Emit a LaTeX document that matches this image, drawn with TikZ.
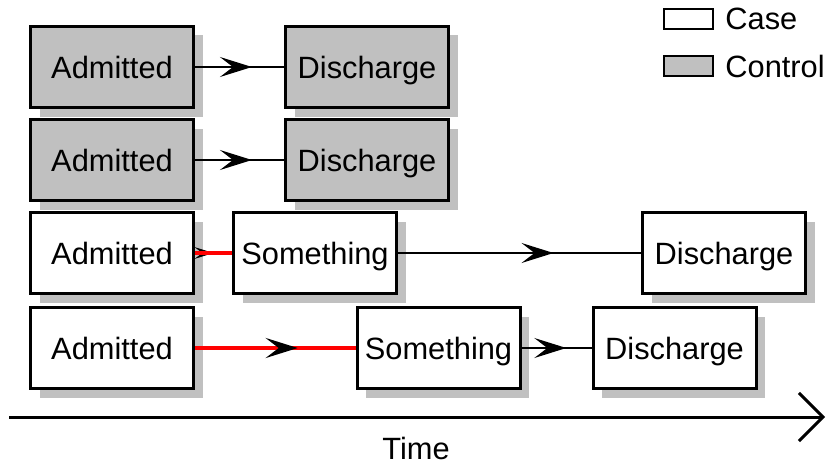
\documentclass[tikz,border=0pt]{standalone}
\usepackage{fontspec}
\setmainfont{Liberation Sans}
\usetikzlibrary{arrows.meta,shadows,decorations.markings}

\definecolor{ctrlgray}{RGB}{192,192,192}
\definecolor{shadegray}{RGB}{192,192,192}

\tikzset{
  event/.style={draw, line width=1.5pt, fill=white, inner sep=0pt,
    minimum width=81.5pt, minimum height=40.5pt, text height=11pt, text depth=0pt,
    drop shadow={shadow xshift=4.5pt, shadow yshift=-4.5pt, fill=shadegray, opacity=1}},
  control/.style={event, fill=ctrlgray},
  keybox/.style={draw, line width=1pt, inner sep=0pt, minimum width=24.5pt, minimum height=10pt},
  midarrow/.style={decoration={markings,
    mark=at position 0.64 with {\arrow{Stealth[length=16pt,width=10pt,inset=6.5pt,color=black]}}}},
  link/.style={line width=0.75pt, midarrow, postaction={decorate}},
  redlink/.style={red, line width=2pt, midarrow},
}

\begin{document}
\begin{tikzpicture}[x=0.5pt, y=-0.5pt, font=\fontsize{15.4}{18}\selectfont]
\useasboundingbox (0,0) rectangle (828,465);

% control rows
\node[control] (adm1) at (112,67) {Admitted};
\node[control] (dis1) at (367,67) {Discharge};
\node[control] (adm2) at (112,160) {Admitted};
\node[control] (dis2) at (367,160) {Discharge};

% case rows
\node[event] (adm3) at (112,253) {Admitted};
\node[event] (som3) at (315,253) {Something};
\node[event] (dis3) at (724,253) {Discharge};
\node[event] (adm4) at (112,348) {Admitted};
\node[event] (som4) at (438.5,348) {Something};
\node[event] (dis4) at (674.5,348) {Discharge};

% transitions
\draw[link] (adm1) -- (dis1);
\draw[link] (adm2) -- (dis2);
\draw[redlink, preaction={decorate}] (adm3) -- (som3);
\draw[link] (som3) -- (dis3);
\draw[redlink, postaction={decorate}] (adm4) -- (som4);
\draw[link] (som4) -- (dis4);

% legend
\node[keybox, fill=white] (casekey) at (688.5,19) {};
\node[anchor=west, inner sep=0pt, text height=11pt, text depth=0pt] (caselbl) at (725,19) {Case};
\node[keybox, fill=ctrlgray] (ctrlkey) at (688.5,66.5) {};
\node[anchor=west, inner sep=0pt, text height=11pt, text depth=0pt] (ctrllbl) at (725,66.5) {Control};

% time axis
\coordinate (t0) at (9,417);
\coordinate (t1) at (825,417);
\draw[line width=1.5pt, -{Straight Barb[length=12pt,width=24pt]}] (t0) -- (t1);
\node[inner sep=0pt, text height=11pt, text depth=0pt] (timelbl) at (416,448) {Time};

\end{tikzpicture}
\end{document}
